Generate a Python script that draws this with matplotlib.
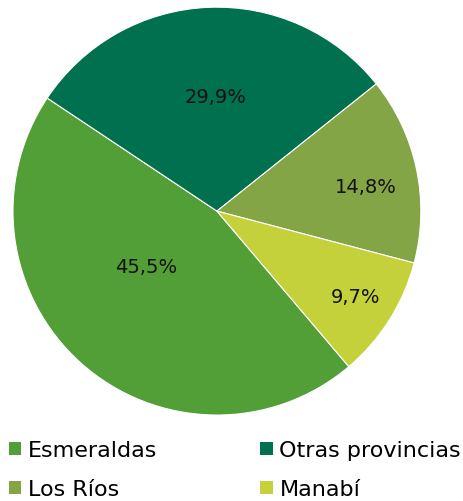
import numpy as np
import matplotlib.pyplot as plt
from matplotlib.patches import Patch

plt.rcParams['font.family'] = ['DejaVu Sans']

provincias = ['Esmeraldas', 'Otras provincias', 'Los Ríos', 'Manabí']
porcentajes = [45.5, 29.9, 14.8, 9.7]
colores = ['#529F38', '#00704F', '#84A546', '#C4D13B']
etiquetas = ['45,5%', '29,9%', '14,8%', '9,7%']
# label radial distance and angular shift (degrees), as placed in the original
pos_r = [0.44, 0.56, 0.74, 0.80]
pos_da = [-10, -2, -2.5, 0.7]

fig = plt.figure(figsize=(4.64, 5.02), dpi=100)
ax = fig.add_axes([0.028, 0.171, 0.879, 0.813])

start = 310.3
wedges, _ = ax.pie(porcentajes, colors=colores, startangle=start, counterclock=False,
                   wedgeprops=dict(edgecolor='white', linewidth=0.8))
ax.set_xlim(-1, 1)
ax.set_ylim(-1, 1)
ax.set_aspect('equal')

for w, lab, r, da in zip(wedges, etiquetas, pos_r, pos_da):
    ang = np.deg2rad((w.theta1 + w.theta2) / 2 + da)
    ax.text(r * np.cos(ang), r * np.sin(ang), lab, ha='center', va='center',
            fontsize=14, color='#111111')

handles = [Patch(facecolor=c, edgecolor='none') for c in colores]
orden = [0, 2, 1, 3]
fig.legend([handles[i] for i in orden], [provincias[i] for i in orden],
           ncol=2, loc='lower left', bbox_to_anchor=(0.0, -0.014), frameon=False,
           fontsize=16, handlelength=0.55, handleheight=0.55, handletextpad=0.3,
           columnspacing=4.65, labelspacing=0.85, borderpad=0.2, borderaxespad=0.2)

plt.savefig('out.png', dpi=100)
